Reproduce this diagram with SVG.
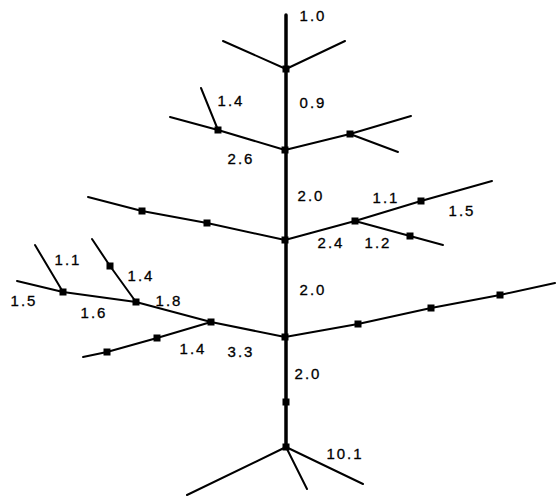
<svg xmlns="http://www.w3.org/2000/svg" width="556" height="500" viewBox="0 0 556 500">
<style>
.trunk{stroke:#000;stroke-width:3.5;fill:none;stroke-linecap:round}
.br{stroke:#000;stroke-width:2;fill:none;stroke-linecap:round;stroke-linejoin:round}
text{font-family:"Liberation Sans",Arial,sans-serif;font-size:15px;fill:#000;text-anchor:middle;letter-spacing:2px;stroke:#000;stroke-width:0.3}
</style>
<defs>
<rect id="sq" x="-3.5" y="-3.5" width="7" height="7"/>
</defs>
<rect width="556" height="500" fill="#fff"/>
<g id="connectors">
<path class="trunk" d="M286,15 L286,447"/>
<path class="br" d="M223,41 L286,69 L345,41"/>
<path class="br" d="M170,117 L218,130 L285,150 L350,134 L411,116"/>
<path class="br" d="M218,130 L201,88"/>
<path class="br" d="M350,134 L398,152"/>
<path class="br" d="M88,197 L142,211 L207,223 L285,240 L355,221 L421,201 L492,181"/>
<path class="br" d="M355,221 L410,236 L443,245"/>
<path class="br" d="M17,281 L63,292 L136,302 L211,322 L285,337 L358,324 L431,308 L500,295 L555,283"/>
<path class="br" d="M63,292 L35,245"/>
<path class="br" d="M136,302 L110,266 L92,239"/>
<path class="br" d="M211,322 L157,338 L107,352 L83,357"/>
<path class="br" d="M187,495 L286,447 L307,489"/>
<path class="br" d="M286,447 L363,484"/>
</g>
<g id="nodes">
<g id="n1"><use href="#sq" x="286" y="69"/></g>
<g id="n2"><use href="#sq" x="285" y="150"/></g>
<g id="n3"><use href="#sq" x="218" y="130"/></g>
<g id="n4"><use href="#sq" x="350" y="134"/></g>
<g id="n5"><use href="#sq" x="285" y="240"/></g>
<g id="n6"><use href="#sq" x="142" y="211"/></g>
<g id="n7"><use href="#sq" x="207" y="223"/></g>
<g id="n8"><use href="#sq" x="355" y="221"/></g>
<g id="n9"><use href="#sq" x="421" y="201"/></g>
<g id="n10"><use href="#sq" x="410" y="236"/></g>
<g id="n11"><use href="#sq" x="285" y="337"/></g>
<g id="n12"><use href="#sq" x="211" y="322"/></g>
<g id="n13"><use href="#sq" x="136" y="302"/></g>
<g id="n14"><use href="#sq" x="63" y="292"/></g>
<g id="n15"><use href="#sq" x="110" y="266"/></g>
<g id="n16"><use href="#sq" x="157" y="338"/></g>
<g id="n17"><use href="#sq" x="107" y="352"/></g>
<g id="n18"><use href="#sq" x="358" y="324"/></g>
<g id="n19"><use href="#sq" x="431" y="308"/></g>
<g id="n20"><use href="#sq" x="500" y="295"/></g>
<g id="n21"><use href="#sq" x="286" y="402"/></g>
<g id="n22"><use href="#sq" x="286" y="447"/></g>
</g>
<g id="labels">
<text x="313" y="21">1.0</text>
<text x="313" y="108">0.9</text>
<text x="231" y="106">1.4</text>
<text x="241" y="164">2.6</text>
<text x="311" y="201">2.0</text>
<text x="386" y="203">1.1</text>
<text x="462" y="216">1.5</text>
<text x="331" y="248">2.4</text>
<text x="378" y="248">1.2</text>
<text x="313" y="295">2.0</text>
<text x="68" y="265">1.1</text>
<text x="141" y="281">1.4</text>
<text x="24" y="306">1.5</text>
<text x="94" y="318">1.6</text>
<text x="169" y="306">1.8</text>
<text x="193" y="354">1.4</text>
<text x="241" y="357">3.3</text>
<text x="308" y="379">2.0</text>
<text x="345" y="459">10.1</text>
</g>
</svg>
